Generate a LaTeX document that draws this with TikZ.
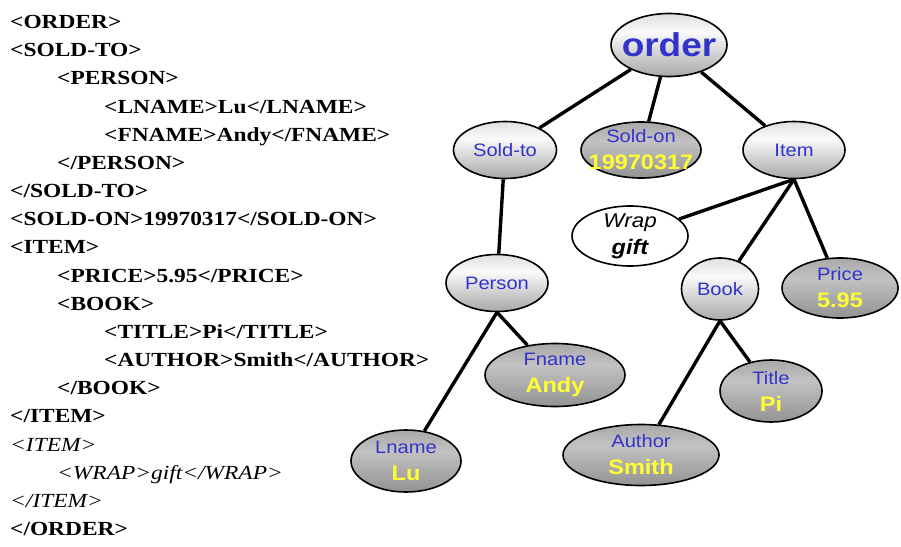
\documentclass[tikz,border=0pt]{standalone}
\usepackage{fontspec}
\setmainfont[FakeStretch=1.17]{Liberation Serif}
\newfontfamily\nodefont[FakeStretch=1.12]{Liberation Sans}
\usetikzlibrary{shapes.geometric}

\definecolor{tagblue}{RGB}{51,51,204}
\definecolor{valyellow}{RGB}{255,255,51}

% colours go from bottom (25bp) to top (75bp)
\pgfdeclareverticalshading{paleball}{100bp}{color(0bp)=(gray!68); color(25bp)=(gray!68);
  color(45bp)=(gray!32); color(60bp)=(gray!4); color(75bp)=(gray!25); color(100bp)=(gray!25)}
\pgfdeclareverticalshading{darkball}{100bp}{color(0bp)=(gray!85); color(25bp)=(gray!85);
  color(58bp)=(gray!48); color(75bp)=(gray!68); color(100bp)=(gray!68)}

\tikzset{
  elem/.style={ellipse, draw, line width=1.6pt, inner sep=0pt},
  pale/.style={elem, shading=paleball},
  dark/.style={elem, shading=darkball},
  plain/.style={elem, fill=white},
  tag/.style={font=\nodefont\fontsize{18}{27}\selectfont, text=tagblue, align=center},
  edge/.style={line width=3.4pt},
  src/.style={anchor=base west, inner sep=0pt, font=\fontsize{20}{28}\selectfont\bfseries},
  srcit/.style={src, font=\fontsize{20}{28}\selectfont\itshape},
}
\newcommand{\twolines}[2]{#1\\{\fontsize{21}{27}\selectfont\bfseries\color{valyellow}#2}}

\begin{document}
\begin{tikzpicture}[x=1pt, y=-1pt]
  \useasboundingbox (0,0) rectangle (901,546);

  % the xml source
  \node[src] (l1)  at (10,28)  {<ORDER>};
  \node[src] (l2)  at (10,56)  {<SOLD-TO>};
  \node[src] (l3)  at (57,84)  {<PERSON>};
  \node[src] (l4)  at (104,113) {<LNAME>Lu</LNAME>};
  \node[src] (l5)  at (104,141) {<FNAME>Andy</FNAME>};
  \node[src] (l6)  at (57,169) {</PERSON>};
  \node[src] (l7)  at (10,197) {</SOLD-TO>};
  \node[src] (l8)  at (10,225) {<SOLD-ON>19970317</SOLD-ON>};
  \node[src] (l9)  at (10,253) {<ITEM>};
  \node[src] (l10) at (57,282) {<PRICE>5.95</PRICE>};
  \node[src] (l11) at (57,310) {<BOOK>};
  \node[src] (l12) at (104,338) {<TITLE>Pi</TITLE>};
  \node[src] (l13) at (104,366) {<AUTHOR>Smith</AUTHOR>};
  \node[src] (l14) at (57,394) {</BOOK>};
  \node[src] (l15) at (10,422) {</ITEM>};
  \node[srcit] (l16) at (10,451) {<ITEM>};
  \node[srcit] (l17) at (57,479) {<WRAP>gift</WRAP>};
  \node[srcit] (l18) at (10,507) {</ITEM>};
  \node[src] (l19) at (10,535) {</ORDER>};

  % the tree
  \node[pale, minimum width=116pt, minimum height=63pt,
    label={[tag, font=\nodefont\fontsize{33}{33}\selectfont\bfseries]center:order}] (order) at (669,45) {};
  \node[pale, minimum width=103pt, minimum height=57pt, label={[tag]center:Sold-to}] (soldto) at (505,150) {};
  \node[dark, minimum width=120pt, minimum height=56pt, label={[tag]center:\twolines{Sold-on}{19970317}}] (soldon) at (641,150) {};
  \node[pale, minimum width=102pt, minimum height=57pt, label={[tag]center:Item}] (item) at (794,150) {};
  \node[plain, minimum width=116pt, minimum height=60pt,
    label={[tag, text=black]center:{\fontsize{20}{27}\selectfont\itshape Wrap}\\{\fontsize{21}{27}\selectfont\bfseries\itshape gift}}] (wrap) at (630,236) {};
  \node[pale, minimum width=102pt, minimum height=57pt, label={[tag]center:Person}] (person) at (497,283) {};
  \node[pale, minimum width=77pt, minimum height=62pt, label={[tag]center:Book}] (book) at (720,289) {};
  \node[dark, minimum width=116pt, minimum height=60pt, label={[tag]center:\twolines{Price}{5.95}}] (price) at (840,288) {};
  \node[dark, minimum width=140pt, minimum height=63pt, label={[tag]center:\twolines{Fname}{Andy}}] (fname) at (555,375) {};
  \node[dark, minimum width=102pt, minimum height=62pt, label={[tag]center:\twolines{Title}{Pi}}] (title) at (771,391) {};
  \node[dark, minimum width=156pt, minimum height=61pt, label={[tag]center:\twolines{Author}{Smith}}] (author) at (641,455) {};
  \node[dark, minimum width=110pt, minimum height=62pt, label={[tag]center:\twolines{Lname}{Lu}}] (lname) at (406,461) {};

  \draw[edge] (order) -- (soldto);
  \draw[edge] (order) -- (soldon);
  \draw[edge] (order) -- (item);
  \draw[edge] (soldto) -- (person);
  \draw[edge] (item.south) -- (wrap);
  \draw[edge] (item.south) -- (book);
  \draw[edge] (item.south) -- (price);
  \draw[edge] (person.south) -- (lname);
  \draw[edge] (person.south) -- (fname);
  \draw[edge] (book.south) -- (author);
  \draw[edge] (book.south) -- (title);
\end{tikzpicture}
\end{document}
